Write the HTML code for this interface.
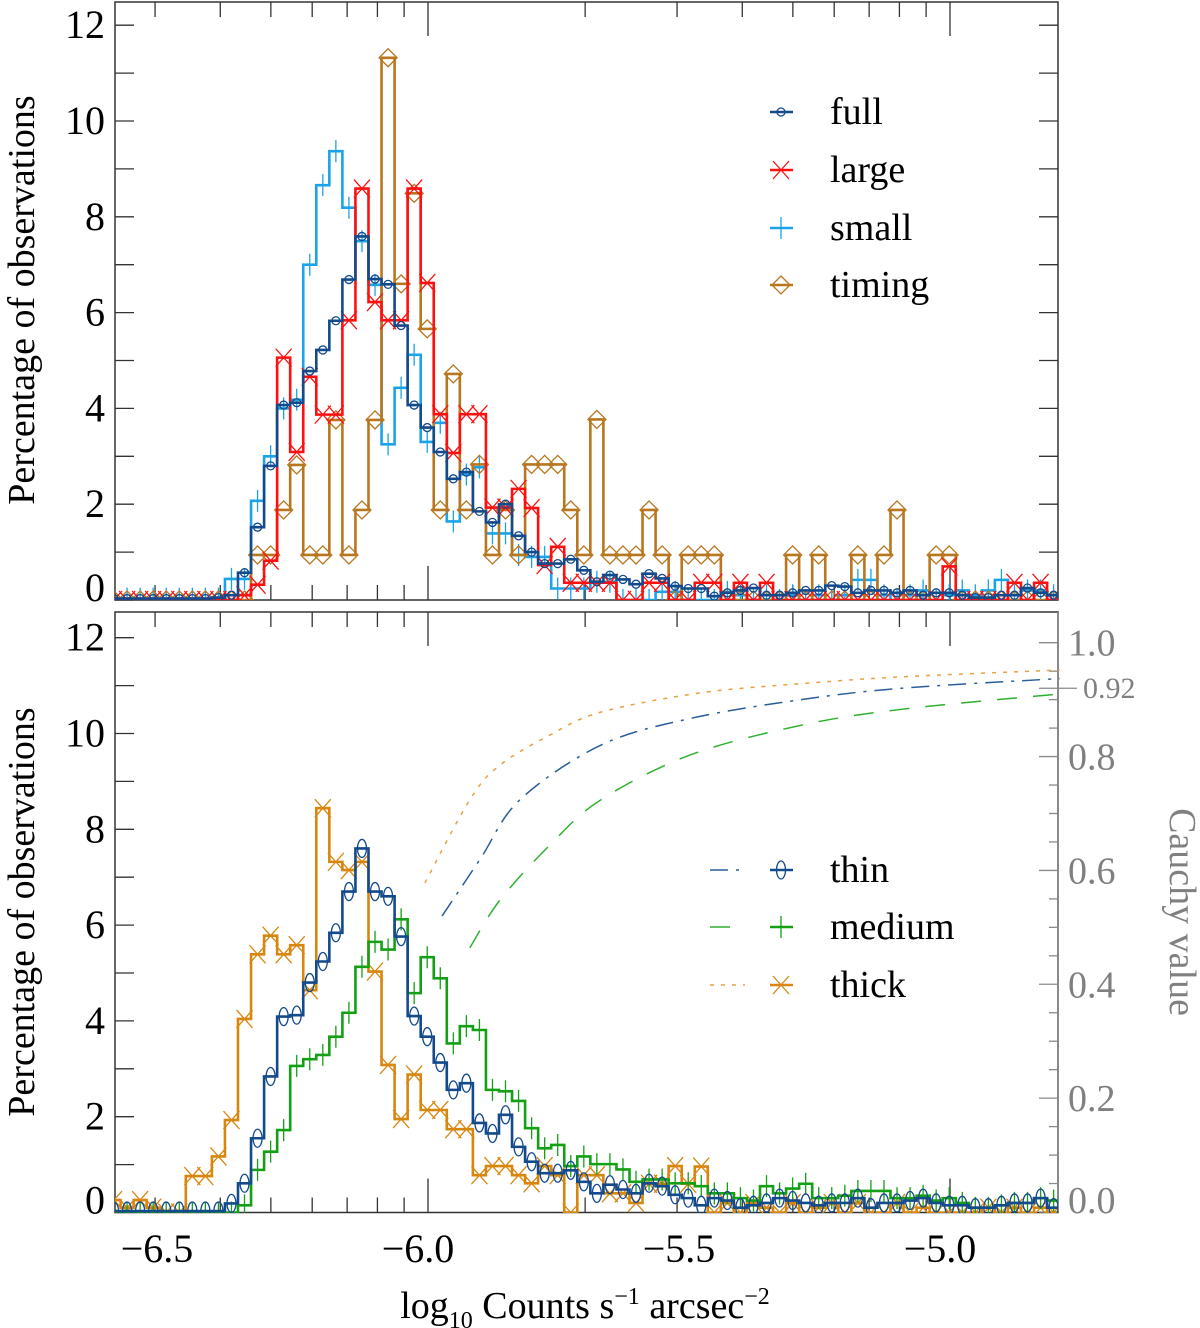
<!DOCTYPE html>
<html><head><meta charset="utf-8">
<style>
html,body{margin:0;padding:0;background:#fff;}
svg{display:block;}
svg text{font-family:"Liberation Serif","DejaVu Serif",serif;}
</style></head>
<body>
<svg id="chart" width="1200" height="1328" viewBox="0 0 1200 1328" xmlns="http://www.w3.org/2000/svg" font-family="Liberation Serif, serif">
<defs>
<clipPath id="clipTop"><rect x="115" y="2" width="943" height="598"/></clipPath>
<clipPath id="clipBot"><rect x="115" y="612" width="943" height="601"/></clipPath>
</defs>
<g id="axes"></g>
<g id="series"></g>
<g id="legend"></g>
<text transform="translate(34,300) rotate(-90)" text-anchor="middle" font-size="38">Percentage of observations</text>
<text transform="translate(34,912) rotate(-90)" text-anchor="middle" font-size="38">Percentage of observations</text>
<text transform="translate(1170,912) rotate(90)" text-anchor="middle" font-size="38" fill="#808080">Cauchy value</text>
<text x="585" y="1318" text-anchor="middle" font-size="38">log<tspan font-size="24" dy="10">10</tspan><tspan dy="-10"> Counts s</tspan><tspan font-size="24" dy="-14">−1</tspan><tspan dy="14"> arcsec</tspan><tspan font-size="24" dy="-14">−2</tspan></text>
</svg>
<script>
// ---- data ----
const binStart = -6.614;
const binWidth = 0.025;
const fullVals = [0.03,0.03,0.03,0.03,0.03,0.03,0.03,0.03,0.05,0.1,0.57,1.52,2.8,4.07,4.12,4.78,5.22,5.83,6.69,7.59,6.7,6.59,5.73,4.07,3.6,3.09,2.53,2.67,1.85,1.62,2.0,1.34,1.0,0.76,0.76,0.85,0.62,0.38,0.52,0.43,0.33,0.55,0.45,0.29,0.24,0.24,0.08,0.15,0.2,0.25,0.1,0.1,0.15,0.2,0.2,0.3,0.28,0.15,0.2,0.2,0.15,0.2,0.1,0.15,0.15,0.1,0.05,0.05,0.1,0.1,0.25,0.15,0.1];
const largeVals = [0,0,0,0,0,0,0,0,0,0,0.1,0.32,0.82,5.06,3.09,4.66,3.87,3.87,5.84,8.59,6.22,5.84,5.84,8.59,6.62,3.88,3.07,3.88,3.88,1.93,1.93,2.32,1.92,0.73,1.11,0.36,0.36,0.36,0.36,0,0,0.36,0.36,0,0,0.36,0.36,0,0.36,0,0.36,0,0,0,0,0,0,0,0,0,0,0,0,0,0.7,0,0,0,0,0.36,0,0.36,0];
const smallVals = [0.03,0.03,0.03,0.03,0.03,0.03,0.03,0.03,0.03,0.44,0.44,2.07,3.0,4.0,4.18,7.0,8.66,9.37,8.19,7.49,6.58,3.25,4.43,5.12,3.3,3.7,1.64,2.62,2.77,1.39,1.39,0.94,0.9,0.9,0.24,0.24,0.24,0.38,0.38,0,0,0,0.17,0.17,0,0,0,0.17,0.1,0,0.1,0,0.1,0,0.1,0,0.1,0.42,0.42,0.1,0,0.1,0.2,0,0.1,0.2,0.1,0.2,0.42,0.1,0.2,0.2,0.1];
const timingVals = [0,0,0,0,0,0,0,0,0,0,0,0.94,0.94,1.88,2.82,0.94,0.94,3.76,0.94,1.88,3.76,11.32,6.6,8.49,5.66,1.88,4.72,1.88,2.83,0.94,1.88,0.94,2.83,2.83,2.83,1.88,0.94,3.77,0.94,0.94,0.94,1.88,0.94,0,0.94,0.94,0.94,0,0,0,0,0,0.94,0,0.94,0,0,0.94,0,0.94,1.88,0,0,0.94,0.94,0,0,0,0,0,0,0,0];
const thinVals = [0.03,0.03,0.03,0.03,0.03,0.03,0.03,0.03,0.03,0.19,0.61,1.55,2.84,4.09,4.12,4.8,5.24,5.84,6.7,7.6,6.7,6.6,5.76,4.1,3.67,3.13,2.56,2.7,1.87,1.65,2.04,1.37,1.06,0.82,0.82,0.88,0.64,0.4,0.58,0.48,0.4,0.61,0.55,0.37,0.3,0.15,0.3,0.25,0.1,0.15,0.2,0.3,0.25,0.2,0.15,0.2,0.2,0.3,0.1,0.2,0.2,0.25,0.3,0.2,0.15,0.15,0.1,0.1,0.15,0.2,0.2,0.3,0.1];
const mediumVals = [0,0,0,0,0,0,0,0,0,0,0.15,0.89,1.27,1.72,3.06,3.2,3.29,3.67,4.17,5.13,5.65,5.49,6.12,4.58,5.33,4.89,3.53,3.89,3.81,2.56,2.53,2.33,1.76,1.34,1.41,0.97,1.17,1.01,1.01,0.9,0.64,0.69,0.69,0.61,0.61,0.55,0.4,0.4,0.3,0.25,0.55,0.4,0.5,0.6,0.3,0.3,0.35,0.45,0.45,0.45,0.3,0.3,0.35,0.25,0.3,0.2,0.1,0.1,0.15,0.2,0.2,0.3,0.25];
const thickVals = [0.26,0.1,0.26,0.1,0,0,0.76,0.76,1.17,1.93,4.04,5.39,5.78,5.39,5.58,4.64,8.44,7.32,7.15,7.32,5.03,3.08,1.95,2.88,2.14,2.14,1.74,1.74,0.78,0.97,0.97,0.78,0.61,0.97,0.78,0,0.78,0.78,0.4,0.4,0.2,0.6,0.6,0.97,0.6,0.96,0,0.2,0,0.2,0.1,0,0.2,0,0.1,0.2,0,0.2,0,0,0.2,0,0.1,0,0,0,0,0.1,0,0.1,0,0.1,0];
// Cauchy curves (x in log10 units, y cauchy value)
const cauchyThickX = [-6.006,-5.92,-5.862,-5.766,-5.669,-5.477,-5.285,-5.093,-4.79];
const cauchyThickY = [0.578,0.724,0.785,0.838,0.878,0.912,0.928,0.94,0.952];
const cauchyThinX = [-5.973,-5.9,-5.824,-5.669,-5.497,-5.285,-5.093,-4.79];
const cauchyThinY = [0.52,0.62,0.724,0.82,0.867,0.90,0.92,0.937];
const cauchyMedX = [-5.92,-5.862,-5.766,-5.669,-5.497,-5.285,-5.093,-4.79];
const cauchyMedY = [0.464,0.548,0.645,0.724,0.803,0.855,0.883,0.91];
const yTickVals = [0,2,4,6,8,10,12];
const yTickLabels = ["0","2","4","6","8","10","12"];
const xLabelVals = [-6.5,-6.0,-5.5,-5.0];
const xLabelText = ["−6.5","−6.0","−5.5","−5.0"];
const rTickVals = [0.0,0.2,0.4,0.6,0.8,1.0];
const rTickLabels = ["0.0","0.2","0.4","0.6","0.8","1.0"];

// ---- scales ----
const X0=115, X1=1058;
function xs(v){ return 428 + (v+6)*522; }
function yT(v){ return 600 - 47.9*v; }
function yB(v){ return 1212.5 - 47.9*v; }
function yR(c){ return 1212 - 569.3*c; }
const NS="http://www.w3.org/2000/svg";
const FONT='Liberation Serif, DejaVu Serif, serif';
function mk(tag, attrs, parent){
  const e=document.createElementNS(NS,tag);
  for(const k in attrs) e.setAttribute(k, attrs[k]);
  if(tag==='text') e.setAttribute('font-family', FONT);
  parent.appendChild(e); return e;
}
const axes=document.getElementById('axes');
const seriesG=document.getElementById('series');
const legendG=document.getElementById('legend');

// ---- frames & ticks ----
function drawPanel(name, top, bottom, yfn, rightGray){
  const f=mk('rect',{x:X0,y:top,width:X1-X0,height:bottom-top,fill:'none',stroke:'#333','stroke-width':1.5},axes);
  
  
  for(let v=0; v<=12; v++){
    const y=yfn(v);
    const t=mk('line',{x1:X0,x2:X0+19,y1:y,y2:y,stroke:'#333','stroke-width':1.3},axes);
    
    
    if(!rightGray){
      const t2=mk('line',{x1:X1,x2:X1-19,y1:y,y2:y,stroke:'#333','stroke-width':1.3},axes);
      
      
    }
  }
  yTickVals.forEach((v,i)=>{
    let y=yfn(v)+13; if(v===0) y-=12;
    const tx=mk('text',{x:105,y:y,'text-anchor':'end','font-size':40},axes);
    tx.textContent=yTickLabels[i];
    
    
  });
  for(let d=-7; d<=-5; d++){
    for(let k=1;k<=9;k++){
      const v=Math.log10(k)+d;
      const x=xs(v);
      if(x<X0||x>X1) continue;
      const len = k===1 ? 34 : 15;
      const a=mk('line',{x1:x,x2:x,y1:bottom,y2:bottom-len,stroke:'#333','stroke-width':1.3},axes);
      
      
      const b=mk('line',{x1:x,x2:x,y1:top,y2:top+len,stroke:'#333','stroke-width':1.3},axes);
      
      
    }
  }
}
drawPanel('top-panel',2,600,yT,false);
drawPanel('bottom-panel',612,1212.5,yB,true);
// right gray axis
const ra=mk('line',{x1:X1,x2:X1,y1:612,y2:1212.5,stroke:'#8a8a8a','stroke-width':2},axes);


for(let i=0;i<=20;i++){
  const c=i*0.05; const y=yR(c);
  const len = (i%4===0)?19:9;
  const t=mk('line',{x1:X1,x2:X1-len,y1:y,y2:y,stroke:'#8a8a8a','stroke-width':1.3},axes);
  
  
}
rTickVals.forEach((c,i)=>{
  let y=yR(c)+13; if(c===0) y-=12;
  const tx=mk('text',{x:1068,y:y,'font-size':38,fill:'#808080'},axes);
  tx.textContent=rTickLabels[i];
  
  
});
const m92=mk('line',{x1:X1-19,x2:X1+19,y1:yR(0.92),y2:yR(0.92),stroke:'#8a8a8a','stroke-width':1.3},axes);


const t92=mk('text',{x:1083,y:yR(0.92)+10,'font-size':30,fill:'#808080'},axes);
t92.textContent='0.92';


xLabelVals.forEach((v,i)=>{
  const tx=mk('text',{x:xs(v)-10,y:1262,'text-anchor':'middle','font-size':40},axes);
  tx.textContent=xLabelText[i];
  
  
});

// ---- markers ----
function marker(type, x, y, color, g){
  let e;
  if(type==='circle') e=mk('circle',{cx:x,cy:y,r:4,fill:'none',stroke:color,'stroke-width':1.3},g);
  else if(type==='ellipse') e=mk('ellipse',{cx:x,cy:y,rx:4.5,ry:9,fill:'none',stroke:color,'stroke-width':1.3},g);
  else if(type==='x') e=mk('path',{d:`M${x-8},${y-9}L${x+8},${y+9}M${x-8},${y+9}L${x+8},${y-9}`,stroke:color,'stroke-width':1.3,fill:'none'},g);
  else if(type==='plus') e=mk('path',{d:`M${x-6},${y}L${x+6},${y}M${x},${y-11}L${x},${y+11}`,stroke:color,'stroke-width':1.3,fill:'none'},g);
  else if(type==='diamond') e=mk('path',{d:`M${x},${y-9}L${x+9},${y}L${x},${y+9}L${x-9},${y}Z`,stroke:color,'stroke-width':1.3,fill:'none'},g);
  return e;
}
function drawHist(name, vals, yfn, color, mtype, clip){
  const g=mk('g',{'clip-path':'url(#'+clip+')'},seriesG);
  
  
  let d='';
  vals.forEach((v,i)=>{
    const xa=xs(binStart+i*binWidth), xb=xs(binStart+(i+1)*binWidth), y=yfn(v);
    d += (i===0?'M':'L')+xa+','+y+'L'+xb+','+y;
  });
  const p=mk('path',{d:d,fill:'none',stroke:color,'stroke-width':2.6},g);
  
  
  vals.forEach((v,i)=>{
    const xc=xs(binStart+(i+0.5)*binWidth);
    const m=marker(mtype,xc,yfn(v),color,g);
    
    
  });
}
const C={full:'#134a8c',large:'#ff1010',small:'#1ba3ea',timing:'#b8761e',thin:'#134a8c',medium:'#14a014',thick:'#d8860e'};
drawHist('small',smallVals,yT,C.small,'plus','clipTop');
drawHist('timing',timingVals,yT,C.timing,'diamond','clipTop');
drawHist('large',largeVals,yT,C.large,'x','clipTop');
drawHist('full',fullVals,yT,C.full,'circle','clipTop');
drawHist('thick',thickVals,yB,C.thick,'x','clipBot');
drawHist('medium',mediumVals,yB,C.medium,'plus','clipBot');
drawHist('thin',thinVals,yB,C.thin,'ellipse','clipBot');

// ---- cauchy curves (smooth Catmull-Rom through points) ----
function drawCurve(name, xv, yv, color, dash){
  const P=xv.map((v,i)=>[xs(v), yR(yv[i])]);
  let d='M'+P[0][0]+','+P[0][1];
  for(let i=0;i<P.length-1;i++){
    const p0=P[Math.max(0,i-1)], p1=P[i], p2=P[i+1], p3=P[Math.min(P.length-1,i+2)];
    const c1=[p1[0]+(p2[0]-p0[0])/6, p1[1]+(p2[1]-p0[1])/6];
    const c2=[p2[0]-(p3[0]-p1[0])/6, p2[1]-(p3[1]-p1[1])/6];
    d+='C'+c1[0]+','+c1[1]+' '+c2[0]+','+c2[1]+' '+p2[0]+','+p2[1];
  }
  const p=mk('path',{d:d,fill:'none',stroke:color,'stroke-width':1.5,'stroke-dasharray':dash},seriesG);
  
  
}
drawCurve('cauchy-thick-curve',cauchyThickX,cauchyThickY,'#e8a040','4 7');
drawCurve('cauchy-thin-curve',cauchyThinX,cauchyThinY,'#2a5e98','18 8 3 8');
drawCurve('cauchy-medium-curve',cauchyMedX,cauchyMedY,'#30b030','20 16');

// ---- legends ----
function legendRow(name,label,y,color,mtype,dash,dcolor){
  const g=mk('g',{},legendG);
  
  
  if(dash){
    const l=mk('line',{x1:710,x2:745,y1:y,y2:y,stroke:dcolor,'stroke-width':1.5,'stroke-dasharray':dash},g);
    
    
  }
  const s=mk('line',{x1:770,x2:793,y1:y,y2:y,stroke:color,'stroke-width':2.6},g);
  
  
  const m=marker(mtype,781,y,color,g);
  
  
  const t=mk('text',{x:830,y:y+12,'font-size':38},g);
  t.textContent=label;
  
  
}
legendRow('full','full',112,C.full,'circle');
legendRow('large','large',170,C.large,'x');
legendRow('small','small',228,C.small,'plus');
legendRow('timing','timing',285,C.timing,'diamond');
legendRow('thin','thin',870,C.thin,'ellipse','18 8 3 8','#2a5e98');
legendRow('medium','medium',927,C.medium,'plus','20 16','#30b030');
legendRow('thick','thick',985,C.thick,'x','4 7','#e8a040');
</script>
</body></html>
